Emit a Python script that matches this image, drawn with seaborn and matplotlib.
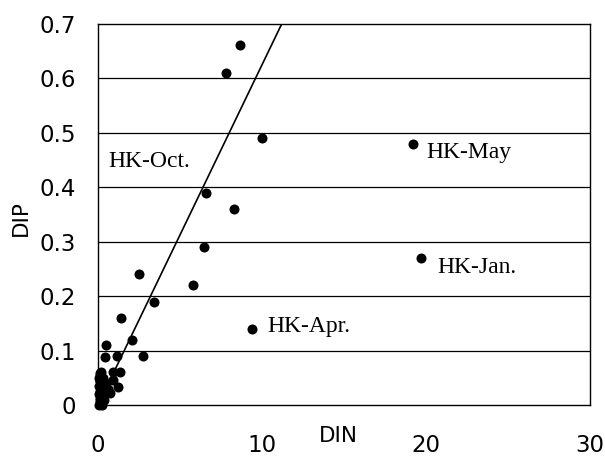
import matplotlib
matplotlib.use("Agg")
import matplotlib.pyplot as plt
import seaborn as sns
import pandas as pd

# Data (DIN vs DIP)
din = [8.66, 7.8, 10.0, 6.6, 8.3, 6.46, 5.8, 9.4, 19.2, 19.7,
       2.5, 3.4, 1.4, 2.1, 2.74, 1.16, 0.5, 0.43, 1.34, 0.9, 1.2, 0.9, 0.73,
       0.05, 0.1, 0.15, 0.2, 0.3, 0.1, 0.2, 0.05, 0.25, 0.1, 0.3, 0.15,
       0.4, 0.5, 0.2, 0.1, 0.05, 0.15, 0.35, 0.6, 0.25, 0.05, 0.1, 0.2]
dip = [0.662, 0.61, 0.49, 0.39, 0.36, 0.29, 0.22, 0.14, 0.48, 0.27,
       0.24, 0.19, 0.16, 0.12, 0.09, 0.09, 0.11, 0.089, 0.06, 0.06, 0.033, 0.046, 0.022,
       0.0, 0.005, 0.01, 0.015, 0.02, 0.025, 0.03, 0.035, 0.04, 0.045, 0.05, 0.055,
       0.03, 0.04, 0.06, 0.012, 0.02, 0.045, 0.01, 0.03, 0.0, 0.05, 0.058, 0.035]

ratio_line_x = [0.0, 11.2]
np_ratio = 16.0
ratio_line_y = [v / np_ratio for v in ratio_line_x]

labels = ["HK-Oct.", "HK-May", "HK-Jan.", "HK-Apr."]
label_x = [0.65, 20.0, 20.7, 10.3]
label_y = [0.447, 0.463, 0.252, 0.145]

xticks = [0, 10, 20, 30]
yticks = [0, 0.1, 0.2, 0.3, 0.4, 0.5, 0.6, 0.7]
yticklabels = ["0", "0.1", "0.2", "0.3", "0.4", "0.5", "0.6", "0.7"]

sns.set_theme(style="white")
plt.rcParams['font.family'] = ['DejaVu Sans']
plt.rcParams['text.color'] = 'black'
plt.rcParams['xtick.color'] = 'black'
plt.rcParams['ytick.color'] = 'black'
plt.rcParams['axes.labelcolor'] = 'black'

fig = plt.figure(figsize=(6.05, 4.62), dpi=100)
ax = fig.add_axes([98/605, 1 - 405/462, (590-98)/605, (405-24)/462])

df = pd.DataFrame({"DIN": din, "DIP": dip})
for yv in yticks[1:-1]:
    ax.axhline(yv, color="black", lw=0.9, zorder=1)
sns.scatterplot(data=df, x="DIN", y="DIP", ax=ax, color="black", s=52,
                edgecolor="black", linewidth=0, zorder=3, clip_on=False)
sns.lineplot(x=ratio_line_x, y=ratio_line_y, ax=ax, color="black", lw=1.2, zorder=2)

for t, xv, yv in zip(labels, label_x, label_y):
    ax.text(xv, yv, t, family=['Liberation Serif', 'DejaVu Serif'], fontsize=17,
            va="center", ha="left", color="black")

ax.set_xlim(0, 30)
ax.set_ylim(0, 0.7)
ax.set_xticks(xticks)
ax.set_xticklabels([str(v) for v in xticks], fontsize=16.5, color="black")
ax.set_yticks(yticks)
ax.set_yticklabels(yticklabels, fontsize=16.5, color="black")
ax.tick_params(axis="x", direction="in", length=5, width=1, pad=21, color="black",
               labelcolor="black")
ax.tick_params(axis="y", length=0, pad=16, labelcolor="black")
for s in ax.spines.values():
    s.set_color("black")
    s.set_linewidth(1.0)
ax.set_xlabel("")
ax.set_ylabel("")
fig.text(338/605, 1 - 436/462, "DIN", fontsize=15.5, ha="center", va="center", color="black")
fig.text(21/605, 1 - 218/462, "DIP", fontsize=15.5, ha="center", va="center",
         rotation=90, color="black")

fig.savefig("out.png", dpi=100)
